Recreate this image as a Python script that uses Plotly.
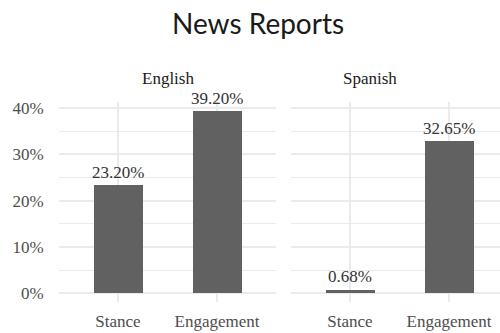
import plotly.graph_objects as go

categories = ["Stance", "Engagement"]
english_values = [23.20, 39.20]
spanish_values = [0.68, 32.65]
panel_titles = ["English", "Spanish"]
y_ticks = [0, 10, 20, 30, 40]
title_text = "News Reports"

W, H = 500, 333
BAR = "#616161"
GRID = "#ebebeb"
SERIF = "Liberation Serif, Times New Roman, serif"
SANS = "Lato, sans-serif"

def px_x(p):
    return p / W

def px_y(p):
    return 1 - p / H

fig = go.Figure()
fig.add_trace(go.Bar(x=categories, y=english_values, xaxis="x", yaxis="y",
                     marker=dict(color=BAR, line=dict(width=0)), width=0.5))
fig.add_trace(go.Bar(x=categories, y=spanish_values, xaxis="x2", yaxis="y",
                     marker=dict(color=BAR, line=dict(width=0)), width=0.5))

annotations = []
for xa, vals in (("x", english_values), ("x2", spanish_values)):
    for c, v in zip(categories, vals):
        annotations.append(dict(x=c, y=v, xref=xa, yref="y", text=f"{v:.2f}%",
                                showarrow=False, yanchor="bottom", yshift=2,
                                font=dict(family=SERIF, size=17, color="#333333")))

annotations.append(dict(x=px_x(167.5), y=px_y(87), xref="paper", yref="paper",
                        text=panel_titles[0], showarrow=False, yanchor="bottom",
                        font=dict(family=SERIF, size=17, color="#1a1a1a")))
annotations.append(dict(x=px_x(399), y=px_y(87), xref="paper", yref="paper",
                        text=panel_titles[1], showarrow=False, yanchor="bottom",
                        font=dict(family=SERIF, size=17, color="#1a1a1a")))
annotations.append(dict(x=px_x(258), y=px_y(19), xref="paper", yref="paper",
                        text=title_text, showarrow=False, xanchor="center", yanchor="middle",
                        font=dict(family=SANS, size=28, color="#1a1a1a")))

axis_common = dict(type="category", categoryorder="array", categoryarray=categories,
                   showgrid=True, gridcolor=GRID, gridwidth=2, zeroline=False,
                   showline=False, ticks="", ticklabelstandoff=7,
                   tickfont=dict(family=SERIF, size=17, color="#4d4d4d"))

fig.update_layout(
    width=W, height=H,
    margin=dict(l=0, r=0, t=0, b=0),
    paper_bgcolor="white", plot_bgcolor="white",
    showlegend=False,
    xaxis=dict(domain=[px_x(58.6), px_x(276.4)], range=[-0.6, 1.6], anchor="y", **axis_common),
    xaxis2=dict(domain=[px_x(290.6), 1.0], range=[-0.6, 1.515], anchor="y", **axis_common),
    yaxis=dict(domain=[px_y(303), px_y(100)], range=[-1.96, 41.16],
               tickvals=y_ticks, ticktext=[f"{t}%" for t in y_ticks],
               showgrid=True, gridcolor=GRID, gridwidth=2, zeroline=False,
               showline=False, ticks="", ticklabelstandoff=14,
               minor=dict(dtick=5, tick0=0, showgrid=True, gridcolor=GRID, gridwidth=1),
               tickfont=dict(family=SERIF, size=17, color="#4d4d4d")),
    annotations=annotations,
    bargap=0,
)

fig.write_html("out.html", config={"displayModeBar": False},
               post_script="document.body.style.margin='0';")
